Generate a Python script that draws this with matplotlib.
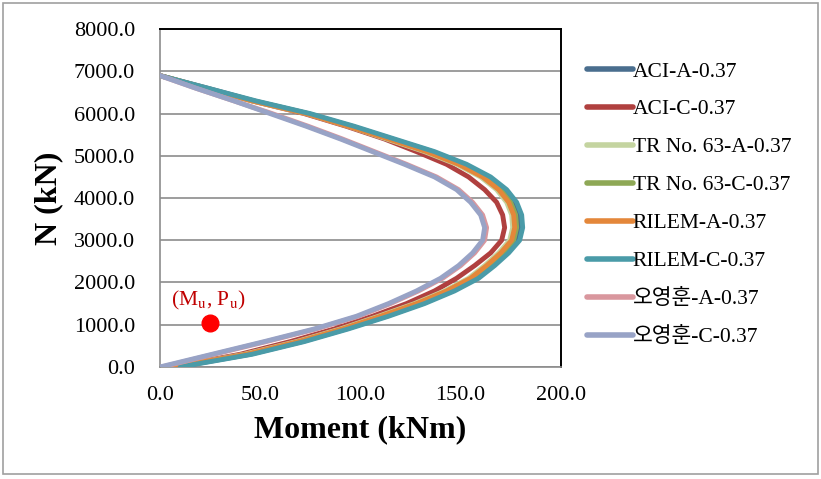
import matplotlib.pyplot as plt
from matplotlib.patches import Rectangle

# axial force levels shared by every curve (kN)
n_levels = [6900, 6600, 6300, 6000, 5700, 5400, 5100, 4800, 4500, 4200, 3900, 3600,
            3300, 3000, 2700, 2400, 2100, 1800, 1500, 1200, 900, 600, 300, 0]

# moment capacities (kNm) at each axial force level
aci_a = [0, 24, 47, 74, 96, 116, 136, 152, 164, 172, 177, 179.5,
         180, 178.5, 173, 166, 158, 146, 131, 113, 93, 71, 45, 9]
aci_c = [0, 23, 46, 72, 93, 112, 128, 143, 154, 162, 168, 171,
         172, 170.5, 165, 157, 148, 137, 123, 106, 87, 65, 40, 6]
tr_a = [0, 23, 46, 73, 94, 113, 132, 148, 160, 168, 173, 175.5,
        176, 174.5, 169, 162, 154, 142, 127, 109, 90, 68, 42, 7]
tr_c = [0, 23, 47, 74, 95, 115, 134, 150, 162, 170, 175, 177.5,
        178, 176.5, 171, 164, 156, 144, 129, 111, 92, 70, 44, 8]
rilem_a = [0, 23, 46, 73, 94, 114, 133, 149, 161, 169, 174, 176.5,
           177, 175.5, 170, 163, 155, 143, 128, 110, 91, 69, 43, 7]
rilem_c = [0, 24, 48, 75, 97, 117, 137, 153, 165, 173, 178, 180.5,
           181, 179.5, 174, 167, 159, 147, 132, 114, 94, 72, 46, 10]
oh_a = [0, 18, 37, 56, 74, 91, 107, 123, 138, 149, 156, 161,
        163, 162, 157, 150, 141, 129, 115, 99, 78, 53, 27, 1]
oh_c = [0, 18, 37, 55, 73, 90, 106, 122, 137, 148, 155, 160,
        162, 161, 156, 149, 140, 128, 114, 98, 77, 52, 26, 0]

labels = ["ACI-A-0.37", "ACI-C-0.37", "TR No. 63-A-0.37", "TR No. 63-C-0.37",
          "RILEM-A-0.37", "RILEM-C-0.37", "오영훈-A-0.37", "오영훈-C-0.37"]
colors = ["#4A6E8E", "#B0403F", "#C4D4A0", "#8EA856", "#E4873A", "#4A9BA8", "#D9979E", "#98A3C6"]

# design load point
mu = [25]
pu = [1040]

plt.rcParams['font.family'] = ['Liberation Serif', 'Noto Sans CJK KR']
plt.rcParams['mathtext.fontset'] = 'stix'

fig = plt.figure(figsize=(8.21, 4.79), dpi=100)
ax = fig.add_axes([0.195, 0.234, 0.488, 0.705])

series = [aci_a, aci_c, tr_a, tr_c, rilem_a, rilem_c, oh_a, oh_c]
for m, lab, c in zip(series, labels, colors):
    ax.plot(m, n_levels, color=c, lw=3.5, label=lab, solid_capstyle='round',
            solid_joinstyle='round', zorder=3)

ax.plot(mu, pu, 'o', color='#FF0000', ms=12, zorder=4)
ax.text(24, 1580, "(M$_\\mathrm{u}$, P$_\\mathrm{u}$)", color='#C00000', fontsize=15.5,
        ha='center', va='center')

ax.set_xlim(0, 200)
ax.set_ylim(0, 8000)
ax.set_xticks([0, 50, 100, 150, 200])
ax.set_yticks(range(0, 8001, 1000))
ax.xaxis.set_major_formatter(lambda v, p: f"{v:.1f}")
ax.yaxis.set_major_formatter(lambda v, p: f"{v:.1f}")
ax.tick_params(axis='y', length=0, pad=18, labelsize=16)
ax.tick_params(axis='x', length=0, pad=14, labelsize=16)
ax.grid(axis='y', color='#8C8C8C', lw=1.2)
ax.set_axisbelow(True)

for side in ['left', 'bottom']:
    ax.spines[side].set_color('#8C8C8C')
    ax.spines[side].set_linewidth(1.2)
for side in ['top', 'right']:
    ax.spines[side].set_color('black')
    ax.spines[side].set_linewidth(1.4)

ax.set_xlabel("Moment (kNm)", fontsize=23, fontweight='bold', labelpad=7)
ax.set_ylabel("N (kN)", fontsize=23, fontweight='bold', labelpad=8)

leg = ax.legend(loc='upper left', bbox_to_anchor=(1.045, 0.93), frameon=False,
                fontsize=15.5, handlelength=2.1, handletextpad=0.0, labelspacing=0.83,
                borderaxespad=0)
for line in leg.get_lines():
    line.set_linewidth(4)

fig.patches.append(Rectangle((0.004, 0.01), 0.992, 0.984, transform=fig.transFigure,
                             fill=False, edgecolor='#A0A0A0', lw=1.2))

fig.savefig("out.png", dpi=100)
